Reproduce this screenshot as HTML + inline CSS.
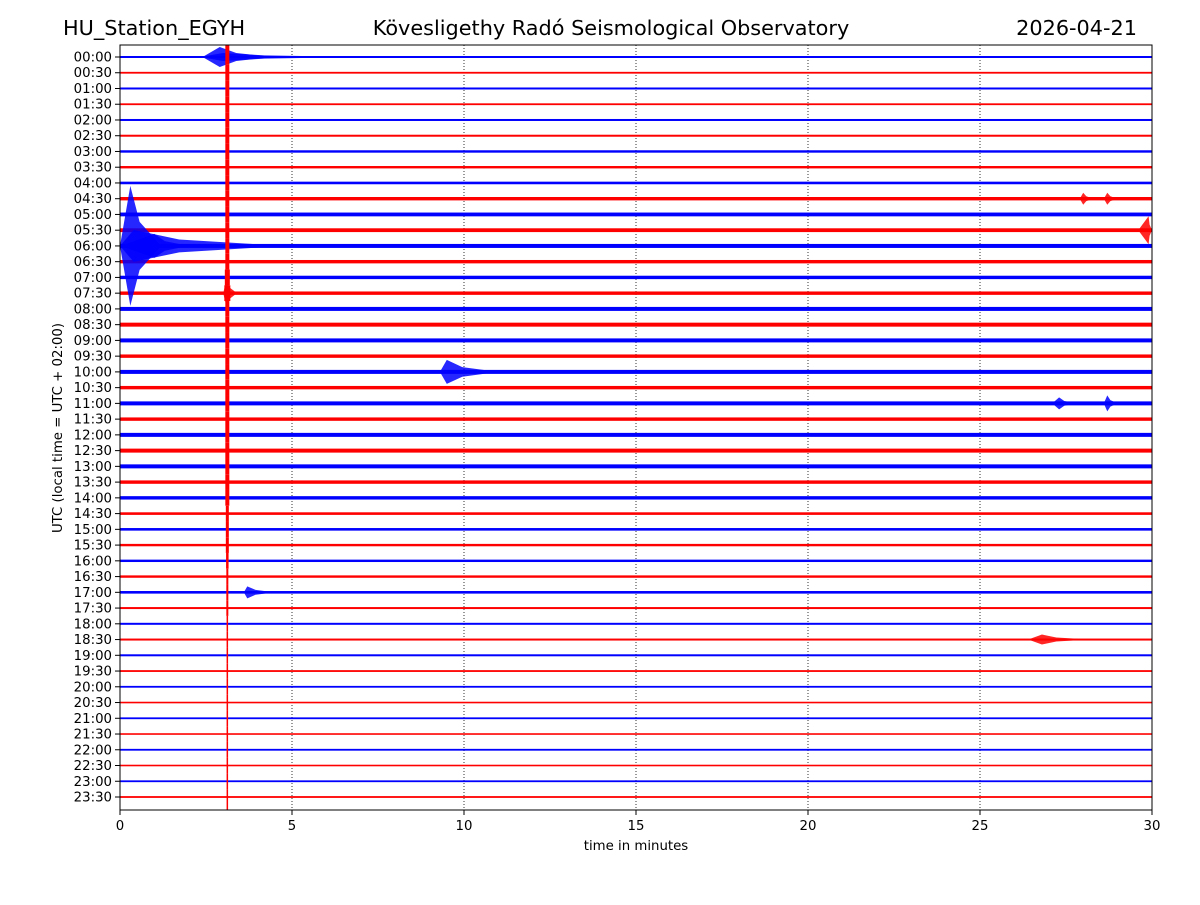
<!DOCTYPE html>
<html><head><meta charset="utf-8"><style>
body{margin:0;background:#fff;}
svg text{font-family:"DejaVu Sans","Liberation Sans",sans-serif;}
</style></head><body>
<svg id="c" width="1200" height="900" xmlns="http://www.w3.org/2000/svg">
<rect width="1200" height="900" fill="#fff"/>
<text x="63" y="35" font-size="20.8">HU_Station_EGYH</text>
<text x="611" y="35" font-size="20.8" text-anchor="middle">Kövesligethy Radó Seismological Observatory</text>
<text x="1137" y="35" font-size="20.8" text-anchor="end">2026-04-21</text>
<g id="grid"></g><g id="traces"></g><g id="events"></g><g id="spike"></g>
<rect x="120" y="45" width="1032" height="765" fill="none" stroke="#000" stroke-width="1"/>
<g id="axes"></g>
<text x="636" y="850" font-size="13.3" text-anchor="middle">time in minutes</text>
<text x="62" y="428" font-size="13.3" text-anchor="middle" transform="rotate(-90 62 428)">UTC (local time = UTC + 02:00)</text>
</svg>
<script>
const xTicks=[0,5,10,15,20,25,30];
const traceLabels=[];for(let h=0;h<24;h++){const hh=String(h).padStart(2,'0');traceLabels.push(hh+':00',hh+':30');}
// noise half-amplitude per trace (px)
const noiseAmp=[1,0.9,1,0.9,1,1,1.2,1.2,1.3,1.7,1.9,1.9,2,1.7,1.7,1.7,2,2,2,1.7,2,1.7,2,1.7,2,2,2,1.7,1.7,1.3,1.3,1.2,1.2,1.2,1.3,1,1,1,1,0.9,0.9,0.8,0.9,0.8,0.9,0.8,0.9,0.9];
// events: trace index, start min, peak min, end min, half-amplitude px
const evTrace=[0,0,12,12,12,11,20,22,22,34,37,9,9,15];
const evStart=[2.3,2.4,0,0,0,29.6,9.3,27.1,28.6,3.6,26.4,27.9,28.6,3.0];
const evPeak=[3.0,2.9,0.3,0.4,1.0,29.9,9.5,27.3,28.7,3.7,26.8,28.0,28.7,3.1];
const evEnd=[7.0,4.5,1.2,4.8,2.0,30,11,27.8,29.0,4.5,28.2,28.3,29.0,3.4];
const evAmp=[4,10,60,16,12,14,12,6,8,6,5,6,6,14];
// vertical spike line width per trace
const spikeMin=3.12;
const spikeW=[4,4,4,4,4,4,4,4,4,4,4,4,4,4,5,6,4,4,4,4,4,4,4,4,4,4,4,4,4,3,3,3,2.5,2,2,2,1.5,1.5,1.5,1.5,1.5,1.5,1.5,1.5,1.5,1.5,1.5,1.5];

const NS='http://www.w3.org/2000/svg';
const X0=120,X1=1152,Y0=57,DY=(797-57)/47;
const xs=m=>X0+(X1-X0)*m/30;
const ys=i=>Y0+i*DY;
const col=i=>i%2?'#ff0000':'#0000ff';
function mk(tag,attrs,parent){const e=document.createElementNS(NS,tag);for(const k in attrs)e.setAttribute(k,attrs[k]);document.getElementById(parent).appendChild(e);return e;}
xTicks.forEach((t,k)=>{
 if(k>0&&k<xTicks.length-1){const g=mk('line',{x1:xs(t),x2:xs(t),y1:45,y2:810,stroke:'#000','stroke-width':0.8,'stroke-dasharray':'1,2'},'grid');
 
 }
 const tl=mk('line',{x1:xs(t),x2:xs(t),y1:810,y2:815,stroke:'#000'},'axes');
 
 
 const tx=mk('text',{x:xs(t),y:830,'font-size':13.3,'text-anchor':'middle'},'axes');tx.textContent=t;
 
 
});
traceLabels.forEach((lab,i)=>{
 const y=ys(i);
 const r=mk('rect',{x:X0,y:y-noiseAmp[i],width:X1-X0,height:2*noiseAmp[i],fill:col(i)},'traces');
 
 
 const tl=mk('line',{x1:115,x2:120,y1:y,y2:y,stroke:'#000'},'axes');
 
 
 const tx=mk('text',{x:112,y:y+4.5,'font-size':13.3,'text-anchor':'end'},'axes');tx.textContent=lab;
 
 
});
evTrace.forEach((ti,k)=>{
 const y=ys(ti),a=evAmp[k],s=xs(evStart[k]),p=xs(evPeak[k]),e=xs(evEnd[k]);
 const mid=p+(e-p)*0.3;
 const pts=[[s,y],[p,y-a],[mid,y-a*0.4],[e,y],[mid,y+a*0.4],[p,y+a]].map(q=>q.join(',')).join(' ');
 const pg=mk('polygon',{points:pts,fill:col(ti),'fill-opacity':0.85},'events');
 
 
});
spikeW.forEach((w,i)=>{
 const top=i===0?45:ys(i)-DY/2,bot=i===47?810:ys(i)+DY/2;
 const r=mk('rect',{x:xs(spikeMin)-w/2,y:top,width:w,height:bot-top,fill:'#ff0000'},'spike');
 
 
});
</script>
</body></html>
